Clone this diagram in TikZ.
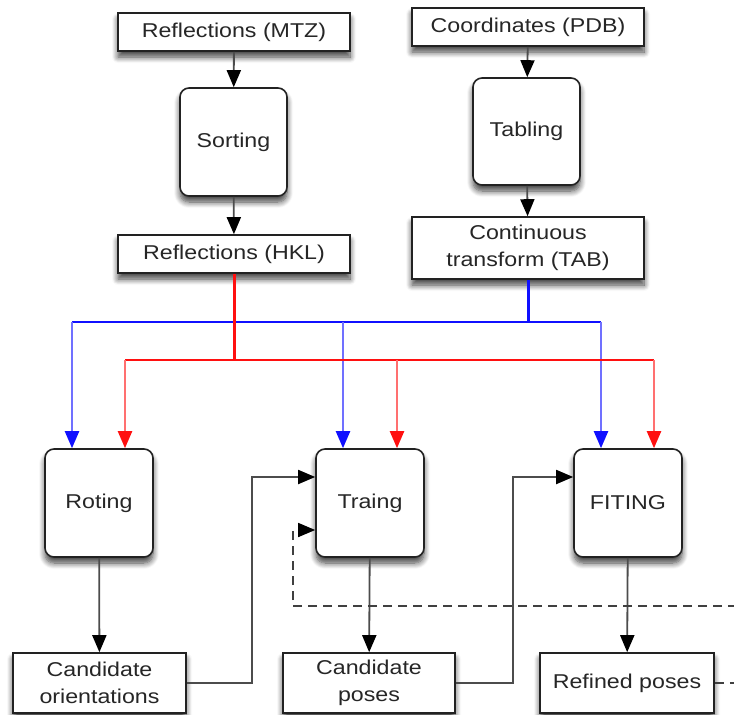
\documentclass[tikz,border=0pt]{standalone}
\usepackage{fontspec}
\setmainfont{Liberation Sans}[FakeStretch=1.16]
\usetikzlibrary{arrows.meta,shadows.blur}
\definecolor{ink}{HTML}{222222}
\definecolor{pblue}{HTML}{1010FF}
\definecolor{pred}{HTML}{FF1010}
\tikzset{
  every node/.style={font=\fontsize{20}{27}\selectfont, text=black!85},
  shad/.style={blur shadow={shadow xshift=0pt, shadow yshift=-6pt, shadow blur radius=6pt, shadow blur steps=8, shadow opacity=75}},
  databox/.style={draw=ink, line width=1.6pt, fill=white, inner sep=0pt, align=center, shad},
  procbox/.style={draw=ink, line width=1.6pt, fill=white, rounded corners=9pt, inner sep=0pt, minimum width=108pt, minimum height=108pt, shad},
  tipk/.style={-{Triangle[width=14pt,length=17pt,fill=black,color=black]}},
  flow/.style={draw=black!70, line width=1.8pt, tipk},
  dflow/.style={draw=black!75, line width=1.4pt, dash pattern=on 9pt off 6pt, tipk},
  bstem/.style={draw=pblue, line width=3pt},
  bbar/.style={draw=pblue, line width=2pt},
  bdrop/.style={draw=pblue!60, line width=2.2pt, -{Triangle[width=14pt,length=17pt,fill=pblue,color=pblue]}},
  rstem/.style={draw=pred, line width=3pt},
  rbar/.style={draw=pred, line width=2pt},
  rdrop/.style={draw=pred!60, line width=2.2pt, -{Triangle[width=14pt,length=17pt,fill=pred,color=pred]}},
}
\begin{document}
\begin{tikzpicture}[x=1pt, y=-1pt]
\useasboundingbox (0,0) rectangle (734,715);
\clip (0,0) rectangle (734,715);

% input and preprocessing column: reflections
\node[databox, minimum width=232pt, minimum height=38pt] (mtz) at (234,32) {Reflections (MTZ)};
\node[procbox, minimum width=107pt] (sort) at (233.5,142) {Sorting};
\node[databox, minimum width=232pt, minimum height=38pt] (hkl) at (234,254) {Reflections (HKL)};

% input and preprocessing column: coordinates
\node[databox, minimum width=232pt, minimum height=38pt] (pdb) at (528,27) {Coordinates (PDB)};
\node[procbox, minimum width=107pt, minimum height=107pt] (tab) at (526.5,131.5) {Tabling};
\node[databox, minimum width=232pt, minimum height=62pt] (ctab) at (528,248) {Continuous\\transform (TAB)};

% search stages
\node[procbox] (rot) at (99,503) {Roting};
\node[procbox] (tra) at (370,503) {Traing};
\node[procbox] (fit) at (628,503) {FITING};

% results
\node[databox, minimum width=173pt, minimum height=60pt] (co) at (99.5,683) {Candidate\\orientations};
\node[databox, minimum width=172pt, minimum height=60pt] (cp) at (369,683) {Candidate\\poses};
\node[databox, minimum width=174pt, minimum height=60pt] (rp) at (627,683) {Refined poses};

% preprocessing arrows
\draw[flow] (mtz) -- (sort);
\draw[flow] (sort) -- (hkl);
\draw[flow] (pdb) -- (tab);
\draw[flow] (tab) -- (ctab);

% branch points
\coordinate (bL) at (72,322);
\coordinate (bM) at (343,322);
\coordinate (bR) at (601,322);
\coordinate (rL) at (125,360);
\coordinate (rM) at (397,360);
\coordinate (rR) at (654,360);

% transform distribution (blue)
\draw[bstem] (ctab.south) -- (ctab.south |- bL);
\draw[bbar] (bL) -- (bR);
\draw[bdrop] (bL) -- (bL |- rot.north);
\draw[bdrop] (bM) -- (bM |- tra.north);
\draw[bdrop] (bR) -- (bR |- fit.north);

% reflection distribution (red)
\draw[rstem] (hkl.south) -- (hkl.south |- rL);
\draw[rbar] (rL) -- (rR);
\draw[rdrop] (rL) -- (rL |- rot.north);
\draw[rdrop] (rM) -- (rM |- tra.north);
\draw[rdrop] (rR) -- (rR |- fit.north);

% stage outputs
\draw[flow] (rot) -- (co);
\draw[flow] (tra) -- (cp);
\draw[flow] (fit) -- (rp);

% hand-over between stages
\draw[flow] (co.east) -- (252,683) |- ([yshift=26pt]tra.west);
\draw[flow] (cp.east) -- (513,683) |- ([yshift=26pt]fit.west);

% feedback of refined poses
\draw[dflow] (rp.east) -- (770,683) -- (770,606) -- (293,606) |- ([yshift=-27pt]tra.west);
\end{tikzpicture}
\end{document}
